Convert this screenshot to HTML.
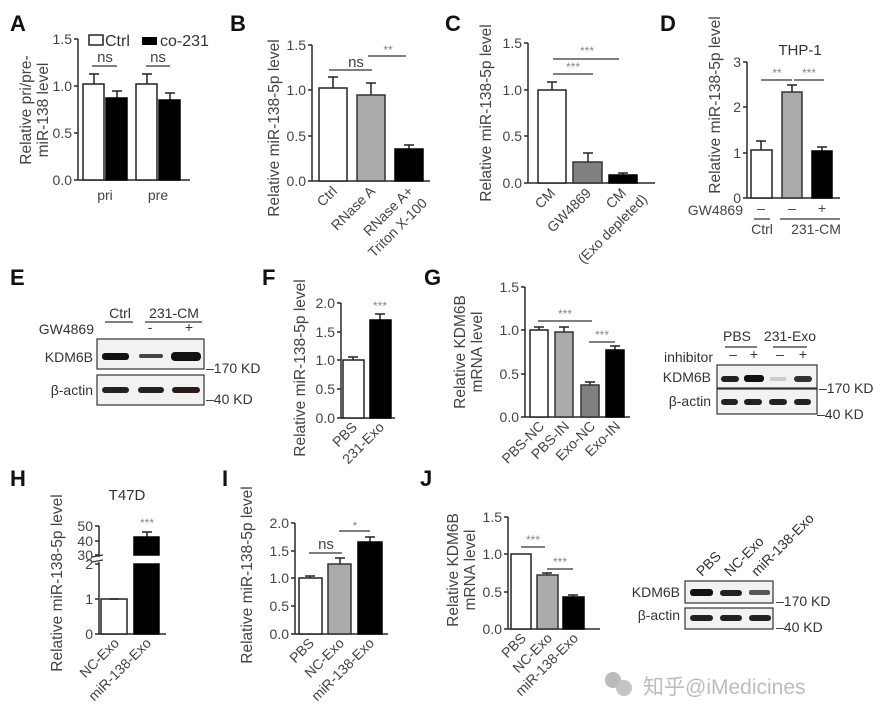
<!DOCTYPE html>
<html><head><meta charset="utf-8"><style>
html,body{margin:0;padding:0;background:#fff;}
svg{display:block;font-family:"Liberation Sans","Noto Sans CJK SC",sans-serif;}
.ax{stroke:#2a2a2a;stroke-width:1.5;fill:none}
.t{font-size:14px;fill:#444}
.yl{font-size:15.5px;fill:#444}
.L{font-size:22px;font-weight:bold;fill:#111}
.s{font-size:12px;fill:#888}
.ln{stroke:#333;stroke-width:1.3}
.bw{fill:#fff;stroke:#222;stroke-width:1.5}
.bk{fill:#000;stroke:#000;stroke-width:1.5}
.bg{fill:#aaa;stroke:#333;stroke-width:1.5}
.bd{fill:#808080;stroke:#333;stroke-width:1.5}
.eb{stroke:#222;stroke-width:1.5}
.wb{font-size:14px;fill:#333}
</style></head><body>
<svg width="883" height="720" viewBox="0 0 883 720">
<!-- A -->
<text class="L" x="10" y="31">A</text>
<text class="yl" transform="translate(31,110) rotate(-90)" text-anchor="middle">Relative pri/pre-</text>
<text class="yl" transform="translate(48,110) rotate(-90)" text-anchor="middle">miR-138 level</text>
<path class="ax" d="M78 39V180H190M74 39H78M74 86H78M74 133H78M74 180H78"/>
<g class="t" text-anchor="end"><text x="72" y="44">1.5</text><text x="72" y="91">1.0</text><text x="72" y="138">0.5</text><text x="72" y="185">0.0</text></g>
<rect class="bw" x="89" y="35" width="14" height="10"/><text x="105" y="46" font-size="16" fill="#333">Ctrl</text>
<rect x="142" y="37" width="15" height="8" fill="#000"/><text x="160" y="46" font-size="16" fill="#333">co-231</text>
<path class="eb" d="M94 84V74M89 74H99M117 98V91M112 91H122M147 84V74M142 74H152M170 100V93M165 93H175"/>
<rect class="bw" x="83" y="84" width="21" height="96"/><rect class="bk" x="106" y="98" width="21" height="82"/>
<rect class="bw" x="136" y="84" width="21" height="96"/><rect class="bk" x="159" y="100" width="21" height="80"/>
<path class="ln" d="M92 66H117M146 66H170"/>
<text x="105" y="62" font-size="15" fill="#444" text-anchor="middle">ns</text><text x="158" y="62" font-size="15" fill="#444" text-anchor="middle">ns</text>
<text class="t" x="105" y="200" text-anchor="middle">pri</text><text class="t" x="158" y="200" text-anchor="middle">pre</text>
<!-- B -->
<text class="L" x="230" y="31">B</text>
<text class="yl" transform="translate(279,128) rotate(-90)" text-anchor="middle">Relative miR-138-5p level</text>
<path class="ax" d="M312 45V181H430M308 45H312M308 90H312M308 136H312M308 181H312"/>
<g class="t" text-anchor="end"><text x="306" y="50">1.5</text><text x="306" y="95">1.0</text><text x="306" y="141">0.5</text><text x="306" y="186">0.0</text></g>
<path class="eb" d="M333 88V77M328 77H338M371 95V83M366 83H376M409 149V145M404 145H414"/>
<rect class="bw" x="319" y="88" width="28" height="93"/><rect class="bg" x="357" y="95" width="28" height="86"/><rect class="bk" x="395" y="149" width="28" height="32"/>
<path class="ln" d="M329 70H372M368 56H406"/>
<text x="356" y="67" font-size="15" fill="#444" text-anchor="middle">ns</text><text class="s" x="388" y="54" text-anchor="middle">**</text>
<g class="t" text-anchor="end"><text transform="translate(338,192) rotate(-45)">Ctrl</text><text transform="translate(376,192) rotate(-45)">RNase A</text><text transform="translate(414,192) rotate(-45)">RNase A+</text><text transform="translate(428,204) rotate(-45)">Triton X-100</text></g>
<!-- C -->
<text class="L" x="445" y="31">C</text>
<text class="yl" transform="translate(491,113) rotate(-90)" text-anchor="middle">Relative miR-138-5p level</text>
<path class="ax" d="M528 43V183H655M524 43H528M524 90H528M524 136H528M524 183H528"/>
<g class="t" text-anchor="end"><text x="522" y="48">1.5</text><text x="522" y="95">1.0</text><text x="522" y="141">0.5</text><text x="522" y="188">0.0</text></g>
<path class="eb" d="M552 90V82M547 82H557M588 162V153M583 153H593M623 175V173M618 173H628"/>
<rect class="bw" x="538" y="90" width="28" height="93"/><rect class="bd" x="573" y="162" width="29" height="21"/><rect class="bk" x="609" y="175" width="28" height="8"/>
<path class="ln" d="M553 59H619M553 74H593"/>
<text class="s" x="587" y="55" text-anchor="middle">***</text><text class="s" x="573" y="71" text-anchor="middle">***</text>
<g class="t" text-anchor="end"><text transform="translate(556,194) rotate(-45)">CM</text><text transform="translate(592,194) rotate(-45)">GW4869</text><text transform="translate(627,194) rotate(-45)">CM</text><text transform="translate(648,200) rotate(-45)">(Exo depleted)</text></g>
<!-- D -->
<text class="L" x="660" y="31">D</text>
<text class="yl" transform="translate(720,105) rotate(-90)" text-anchor="middle">Relative miR-138-5p level</text>
<text x="800" y="55" font-size="15" fill="#333" text-anchor="middle">THP-1</text>
<path class="ax" d="M747 62V198H840M743 62H747M743 107H747M743 153H747M743 198H747"/>
<g class="t" text-anchor="end"><text x="741" y="67">3</text><text x="741" y="112">2</text><text x="741" y="158">1</text><text x="741" y="203">0</text></g>
<path class="eb" d="M761 150V141M756 141H766M792 92V85M787 85H797M822 151V147M817 147H827"/>
<rect class="bw" x="751" y="150" width="21" height="48"/><rect class="bg" x="782" y="92" width="20" height="106"/><rect class="bk" x="812" y="151" width="20" height="47"/>
<path class="ln" d="M761 80H792M794 80H824"/>
<text class="s" x="777" y="77" text-anchor="middle">**</text><text class="s" x="809" y="77" text-anchor="middle">***</text>
<text class="t" x="743" y="215" text-anchor="end">GW4869</text>
<g class="t" text-anchor="middle"><text x="761" y="213">–</text><text x="792" y="213">–</text><text x="822" y="213">+</text></g>
<path class="ln" d="M754 219H770M780 219H840"/>
<text class="t" x="762" y="234" text-anchor="middle">Ctrl</text><text class="t" x="816" y="234" text-anchor="middle">231-CM</text>
<!-- E -->
<text class="L" x="10" y="285">E</text>
<text class="wb" x="120" y="318" text-anchor="middle">Ctrl</text><text class="wb" x="174" y="318" text-anchor="middle">231-CM</text>
<path class="ln" d="M105 322H133M145 322H202"/>
<text class="wb" x="94" y="334" text-anchor="end">GW4869</text>
<text class="wb" x="150" y="332" text-anchor="middle">-</text><text class="wb" x="189" y="332" text-anchor="middle">+</text>
<rect x="97" y="339" width="107" height="30" fill="#f2f2f2" stroke="#333" stroke-width="1.2"/>
<rect x="97" y="375" width="107" height="30" fill="#f2f2f2" stroke="#333" stroke-width="1.2"/>
<text class="wb" x="93" y="362" text-anchor="end">KDM6B</text><text class="wb" x="93" y="395" text-anchor="end">β-actin</text>
<rect x="102" y="353" width="27" height="7" rx="3" fill="#111"/><rect x="139" y="354" width="24" height="4" rx="2" fill="#444"/><rect x="171" y="352" width="30" height="9" rx="4" fill="#111"/>
<rect x="102" y="387" width="27" height="6" rx="3" fill="#222"/><rect x="138" y="387" width="26" height="6" rx="3" fill="#222"/><rect x="172" y="387" width="28" height="6" rx="3" fill="#2a1a1a"/>
<text class="wb" x="206" y="373">–170 KD</text><text class="wb" x="206" y="404">–40 KD</text>
<!-- F -->
<text class="L" x="262" y="285">F</text>
<text class="yl" transform="translate(305,368) rotate(-90)" text-anchor="middle">Relative miR-138-5p level</text>
<path class="ax" d="M341 303V418H395M337 303H341M337 332H341M337 360H341M337 389H341M337 418H341"/>
<g class="t" text-anchor="end"><text x="335" y="308">2.0</text><text x="335" y="337">1.5</text><text x="335" y="365">1.0</text><text x="335" y="394">0.5</text><text x="335" y="423">0.0</text></g>
<path class="eb" d="M353 360V357M348 357H358M380 320V314M375 314H385"/>
<rect class="bw" x="343" y="360" width="21" height="58"/><rect class="bk" x="370" y="320" width="21" height="98"/>
<text class="s" x="380" y="310" text-anchor="middle">***</text>
<g class="t" text-anchor="end"><text transform="translate(358,428) rotate(-45)">PBS</text><text transform="translate(385,428) rotate(-45)">231-Exo</text></g>
<!-- G -->
<text class="L" x="424" y="285">G</text>
<text class="yl" transform="translate(465,352) rotate(-90)" text-anchor="middle">Relative KDM6B</text>
<text class="yl" transform="translate(482,352) rotate(-90)" text-anchor="middle">mRNA level</text>
<path class="ax" d="M525 287V417H630M521 287H525M521 330H525M521 374H525M521 417H525"/>
<g class="t" text-anchor="end"><text x="519" y="292">1.5</text><text x="519" y="335">1.0</text><text x="519" y="379">0.5</text><text x="519" y="422">0.0</text></g>
<path class="eb" d="M539 330V327M534 327H544M564 332V327M559 327H569M590 385V382M585 382H595M615 350V346M610 346H620"/>
<rect class="bw" x="530" y="330" width="18" height="87"/><rect class="bg" x="555" y="332" width="18" height="85"/><rect class="bd" x="581" y="385" width="18" height="32"/><rect class="bk" x="606" y="350" width="18" height="67"/>
<path class="ln" d="M538 321H592M589 342H615"/>
<text class="s" x="565" y="318" text-anchor="middle">***</text><text class="s" x="602" y="339" text-anchor="middle">***</text>
<g class="t" text-anchor="end"><text transform="translate(545,427) rotate(-45)">PBS-NC</text><text transform="translate(570,427) rotate(-45)">PBS-IN</text><text transform="translate(596,427) rotate(-45)">Exo-NC</text><text transform="translate(621,427) rotate(-45)">Exo-IN</text></g>
<text class="wb" x="737" y="341" text-anchor="middle">PBS</text><text class="wb" x="790" y="341" text-anchor="middle">231-Exo</text>
<path class="ln" d="M725 347H757M773 347H807"/>
<text class="wb" x="713" y="362" text-anchor="end">inhibitor</text>
<g class="wb" text-anchor="middle"><text x="733" y="359">–</text><text x="754" y="359">+</text><text x="780" y="359">–</text><text x="803" y="359">+</text></g>
<rect x="717" y="365" width="100" height="23" fill="#f2f2f2" stroke="#333" stroke-width="1.2"/>
<rect x="717" y="389" width="100" height="25" fill="#f2f2f2" stroke="#333" stroke-width="1.2"/>
<text class="wb" x="711" y="382" text-anchor="end">KDM6B</text><text class="wb" x="711" y="406" text-anchor="end">β-actin</text>
<rect x="721" y="376" width="18" height="6" rx="3" fill="#222"/><rect x="744" y="375" width="20" height="7" rx="3" fill="#111"/><rect x="770" y="377" width="16" height="4" fill="#ccc"/><rect x="794" y="376" width="18" height="6" rx="3" fill="#333"/>
<rect x="721" y="399" width="17" height="6" rx="3" fill="#222"/><rect x="744" y="399" width="18" height="6" rx="3" fill="#222"/><rect x="769" y="399" width="18" height="6" rx="3" fill="#222"/><rect x="794" y="399" width="17" height="6" rx="3" fill="#222"/>
<text class="wb" x="819" y="393">–170 KD</text><text class="wb" x="817" y="419">–40 KD</text>
<!-- H -->
<text class="L" x="10" y="486">H</text>
<text class="yl" transform="translate(62,583) rotate(-90)" text-anchor="middle">Relative miR-138-5p level</text>
<text x="127" y="500" font-size="15" fill="#333" text-anchor="middle">T47D</text>
<path class="ax" d="M99 526V557M99 562V634H166M95 526H99M95 541H99M95 555H99M95 564H99M95 599H99M95 634H99"/>
<path d="M92 557L103 555M92 562L103 560" stroke="#333" stroke-width="1.2"/>
<g class="t" text-anchor="end"><text x="93" y="531">50</text><text x="93" y="546">40</text><text x="93" y="560">30</text><text x="93" y="569">2</text><text x="93" y="604">1</text><text x="93" y="639">0</text></g>
<rect class="bw" x="101" y="599" width="26" height="35"/>
<path class="eb" d="M147 537V532M142 532H152M109 599H119"/>
<rect class="bk" x="134" y="537" width="25" height="18"/><rect class="bk" x="134" y="564" width="25" height="70"/>
<text class="s" x="147" y="527" text-anchor="middle">***</text>
<g class="t" text-anchor="end"><text transform="translate(120,644) rotate(-45)">NC-Exo</text><text transform="translate(152,644) rotate(-45)">miR-138-Exo</text></g>
<!-- I -->
<text class="L" x="222" y="486">I</text>
<text class="yl" transform="translate(252,575) rotate(-90)" text-anchor="middle">Relative miR-138-5p level</text>
<path class="ax" d="M295 523V634H388M291 523H295M291 551H295M291 578H295M291 606H295M291 634H295"/>
<g class="t" text-anchor="end"><text x="289" y="528">2.0</text><text x="289" y="556">1.5</text><text x="289" y="583">1.0</text><text x="289" y="611">0.5</text><text x="289" y="639">0.0</text></g>
<path class="eb" d="M310 578V576M305 576H315M340 564V558M335 558H345M370 542V537M365 537H375"/>
<rect class="bw" x="299" y="578" width="23" height="56"/><rect class="bg" x="328" y="564" width="23" height="70"/><rect class="bk" x="358" y="542" width="24" height="92"/>
<path class="ln" d="M309 553H342M339 531H370"/>
<text x="326" y="549" font-size="15" fill="#444" text-anchor="middle">ns</text><text class="s" x="355" y="530" text-anchor="middle">*</text>
<g class="t" text-anchor="end"><text transform="translate(315,644) rotate(-45)">PBS</text><text transform="translate(345,644) rotate(-45)">NC-Exo</text><text transform="translate(375,644) rotate(-45)">miR-138-Exo</text></g>
<!-- J -->
<text class="L" x="420" y="486">J</text>
<text class="yl" transform="translate(458,570) rotate(-90)" text-anchor="middle">Relative KDM6B</text>
<text class="yl" transform="translate(475,570) rotate(-90)" text-anchor="middle">mRNA level</text>
<path class="ax" d="M508 517V629H600M504 517H508M504 554H508M504 592H508M504 629H508"/>
<g class="t" text-anchor="end"><text x="502" y="522">1.5</text><text x="502" y="559">1.0</text><text x="502" y="597">0.5</text><text x="502" y="634">0.0</text></g>
<path class="eb" d="M547 575V573M542 573H552M573 597V595M568 595H578"/>
<rect class="bw" x="511" y="554" width="20" height="75"/><rect class="bg" x="537" y="575" width="21" height="54"/><rect class="bk" x="563" y="597" width="21" height="32"/>
<path class="ln" d="M521 547H545M547 569H573"/>
<text class="s" x="533" y="544" text-anchor="middle">***</text><text class="s" x="560" y="566" text-anchor="middle">***</text>
<g class="t" text-anchor="end"><text transform="translate(527,639) rotate(-45)">PBS</text><text transform="translate(553,639) rotate(-45)">NC-Exo</text><text transform="translate(579,639) rotate(-45)">miR-138-Exo</text></g>
<g class="wb" font-size="15"><text transform="translate(702,577) rotate(-45)">PBS</text><text transform="translate(730,577) rotate(-45)">NC-Exo</text><text transform="translate(757,577) rotate(-45)">miR-138-Exo</text></g>
<rect x="685" y="581" width="88" height="22" fill="#f2f2f2" stroke="#333" stroke-width="1.2"/>
<rect x="685" y="608" width="88" height="21" fill="#f2f2f2" stroke="#333" stroke-width="1.2"/>
<text class="wb" x="680" y="597" text-anchor="end" font-size="15">KDM6B</text><text class="wb" x="680" y="620" text-anchor="end" font-size="15">β-actin</text>
<rect x="690" y="589" width="23" height="7" rx="3" fill="#111"/><rect x="720" y="590" width="22" height="6" rx="3" fill="#222"/><rect x="749" y="590" width="21" height="5" rx="2" fill="#555"/>
<rect x="690" y="615" width="23" height="6" rx="3" fill="#222"/><rect x="720" y="615" width="22" height="6" rx="3" fill="#222"/><rect x="749" y="615" width="22" height="6" rx="3" fill="#222"/>
<text class="wb" x="776" y="606" font-size="15">–170 KD</text><text class="wb" x="776" y="632" font-size="15">–40 KD</text>
<!-- watermark -->
<circle cx="613" cy="680" r="8" fill="#bbb"/><circle cx="624" cy="688" r="8" fill="#c4c4c4"/>
<text x="643" y="694" font-size="21" fill="#bdbdbd">知乎@iMedicines</text>
</svg>
</body></html>
